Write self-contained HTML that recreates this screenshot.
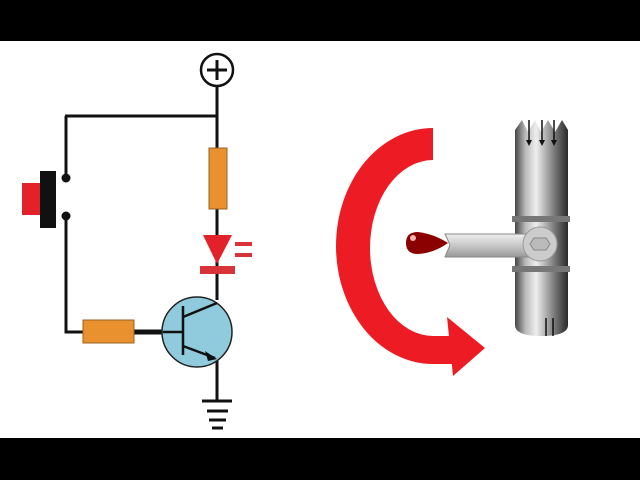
<!DOCTYPE html>
<html><head><style>body{margin:0;background:#fff}svg{display:block}</style></head><body>
<svg width="640" height="480" viewBox="0 0 640 480" xmlns="http://www.w3.org/2000/svg">
<defs>
<linearGradient id="pipe" x1="0" x2="1" y1="0" y2="0">
<stop offset="0" stop-color="#444"/><stop offset="0.2" stop-color="#bbb"/><stop offset="0.4" stop-color="#eee"/><stop offset="0.75" stop-color="#777"/><stop offset="1" stop-color="#2a2a2a"/></linearGradient>
<linearGradient id="lev" x1="0" x2="0" y1="0" y2="1">
<stop offset="0" stop-color="#eee"/><stop offset="0.5" stop-color="#c8c8c8"/><stop offset="1" stop-color="#999"/></linearGradient>
</defs>
<rect width="640" height="41" fill="#000"/>
<rect y="438" width="640" height="42" fill="#000"/>
<g stroke="#111" stroke-width="3" fill="none">
<circle cx="217" cy="70" r="16" stroke-width="2.5"/>
<path d="M217 60v20M207 70h20"/>
<path d="M217 86V300M217 360V401M65 116H217M66 116V178M66 215V332H84"/>
<path d="M134 332H162" stroke-width="5"/>
<path d="M202 401h30M207 411h21M209 420h17M212 428h11"/>
</g>
<circle cx="66" cy="178" r="4.5" fill="#111"/><circle cx="66" cy="216" r="4.5" fill="#111"/>
<rect x="22" y="183" width="19" height="32" fill="#e3212b"/>
<rect x="40" y="171" width="16" height="57" fill="#111"/>
<rect x="209" y="148" width="18" height="61" fill="#e8912e" stroke="#9a6020"/>
<rect x="83" y="320" width="51" height="23" fill="#e8912e" stroke="#9a6020"/>
<path d="M203 235H232L217 264Z" fill="#e3212b"/>
<rect x="200" y="266" width="35" height="8" fill="#d8323a"/>
<rect x="235" y="242" width="17" height="4" fill="#d8323a"/><rect x="235" y="253" width="17" height="4" fill="#d8323a"/>
<circle cx="197" cy="332" r="35" fill="#8fcbdc" stroke="#222" stroke-width="1.5"/>
<g stroke="#111" stroke-width="2.5"><path d="M163 332H183M183 306V355M183 317L217 303M183 346L215 358"/></g>
<path d="M217 359L205 351L208 361Z" fill="#111"/>
<path d="M433 128A97 118 0 0 0 336 246A97 118 0 0 0 433 364H452V336H433A63 88 0 0 1 370 248A63 88 0 0 1 433 160Z" fill="#ed1c24"/>
<path d="M447 317L485 348L453 376Z" fill="#ed1c24"/>
<path d="M515 130L522 120L528 132L535 120L541 132L548 120L555 132L562 120L568 130V325Q568 336 541 336Q515 336 515 325Z" fill="url(#pipe)"/>
<g stroke="#111" stroke-width="1.5"><path d="M529 120V143M542 120V143M554 120V143M546 318V336M553 318V336"/></g>
<g fill="#111"><path d="M526 140h6l-3 6z"/><path d="M539 140h6l-3 6z"/><path d="M551 140h6l-3 6z"/></g>
<rect x="512" y="216" width="58" height="6" fill="#777"/><rect x="512" y="266" width="58" height="6" fill="#777"/>
<path d="M445 234H540V257H445L450 245Z" fill="url(#lev)" stroke="#888"/>
<circle cx="540" cy="244" r="17" fill="#ccc" stroke="#999"/>
<path d="M534 238h12l4 6l-4 6h-12l-4-6z" fill="#bbb" stroke="#888"/>
<path d="M406 243Q406 232 418 232Q434 234 448 243Q434 253 418 254Q406 254 406 243Z" fill="#8b0000"/>
<circle cx="413" cy="238" r="3" fill="#f5b5b5"/>
</svg>
</body></html>
